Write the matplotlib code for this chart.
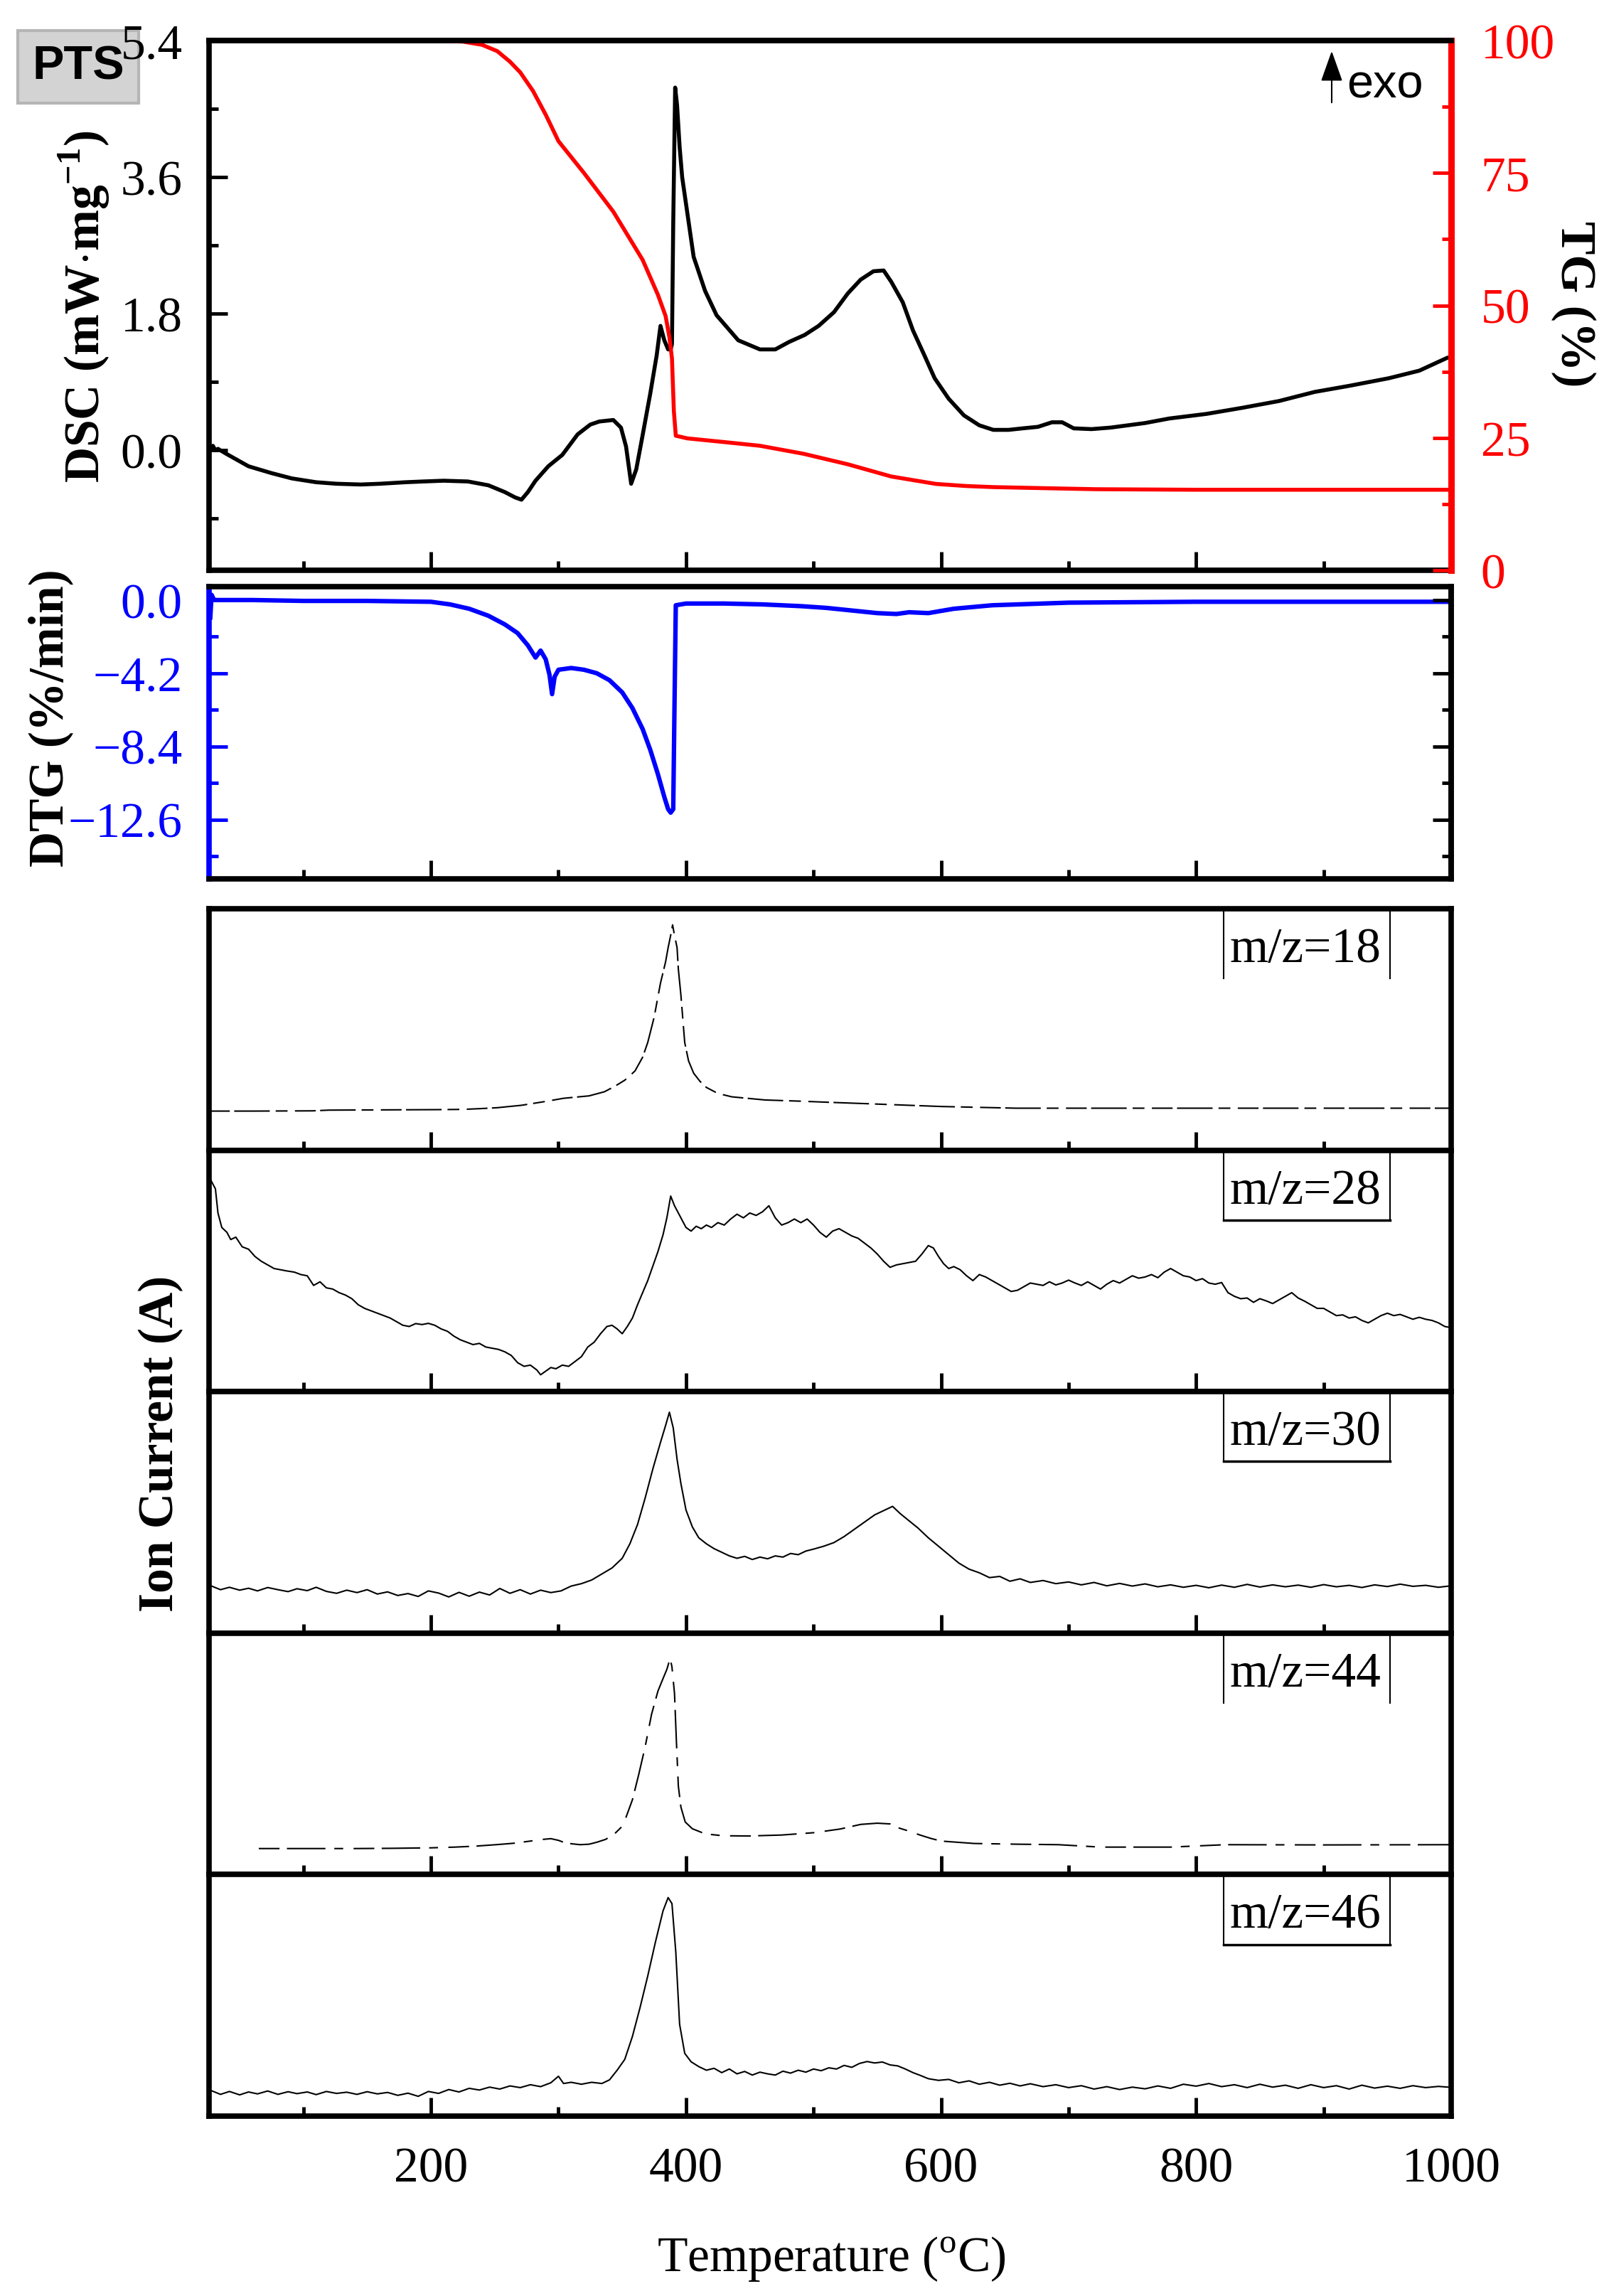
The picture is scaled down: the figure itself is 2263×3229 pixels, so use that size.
import matplotlib
matplotlib.use('Agg')
import matplotlib.pyplot as plt
from matplotlib.ticker import MultipleLocator, FixedLocator, FormatStrFormatter, NullFormatter, FuncFormatter

plt.rcParams['font.family'] = ['Liberation Serif', 'DejaVu Serif']
plt.rcParams['mathtext.fontset'] = 'custom'
plt.rcParams['mathtext.rm'] = 'Liberation Serif'
plt.rcParams['mathtext.bf'] = 'Liberation Serif:bold'
plt.rcParams['font.size'] = 50

# ---------------- data ----------------
# DSC (mW/mg)
dsc_T = [27, 29, 31, 33, 40, 57, 75, 91, 110, 126, 145, 160, 180, 194, 210, 229, 245, 258, 266, 271,
         276, 282, 292, 303, 315, 325, 332, 343, 349, 353, 357, 361, 366, 372, 377, 380, 383, 386, 388,
         389, 390, 391.5, 393, 395, 397, 406, 415, 424, 441, 458, 470, 481, 493, 504, 516, 527, 537,
         547, 555, 561, 570, 578, 587, 595, 606, 618, 630, 641, 653, 664, 676, 687, 695, 704, 718,
         733, 760, 779, 808, 836, 865, 893, 920, 951, 975, 997, 1000]
dsc = [0.0, 0.06, 0.0, 0.02, -0.05, -0.21, -0.30, -0.37, -0.42, -0.44, -0.45, -0.44, -0.42, -0.41,
       -0.40, -0.41, -0.46, -0.55, -0.62, -0.65, -0.55, -0.40, -0.21, -0.06, 0.21, 0.34, 0.38, 0.40,
       0.30, 0.05, -0.44, -0.25, 0.2, 0.75, 1.25, 1.64, 1.45, 1.33, 1.33, 1.4, 3.0, 4.78, 4.55, 4.0,
       3.6, 2.55, 2.1, 1.78, 1.45, 1.33, 1.33, 1.43, 1.52, 1.64, 1.82, 2.07, 2.25, 2.36, 2.37, 2.22,
       1.95, 1.58, 1.25, 0.95, 0.68, 0.46, 0.33, 0.27, 0.27, 0.29, 0.31, 0.37, 0.37, 0.29, 0.28,
       0.30, 0.36, 0.42, 0.48, 0.56, 0.65, 0.77, 0.85, 0.95, 1.05, 1.22, 1.23]

# TG (%)
tg_T = [26, 200, 225, 240, 252, 262, 270, 280, 290, 300, 320, 343, 366, 378, 384, 387, 389, 390.5,
        392, 401, 430, 458, 492, 527, 561, 596, 620, 641, 680, 722, 800, 1000]
tg = [100, 100, 99.8, 99.2, 98, 96, 94, 90.5, 86, 81, 75, 67.7, 58.6, 52, 48, 44, 40, 30, 25.4,
      24.9, 24.2, 23.5, 22, 20, 17.7, 16.3, 15.9, 15.7, 15.5, 15.3, 15.2, 15.2]

# DTG (%/min)
dtg_T = [27, 28, 30, 60, 100, 150, 200, 215, 230, 245, 258, 268, 276, 282, 286, 290, 293, 295, 297,
         300, 310, 320, 330, 340, 350, 358, 366, 372, 378, 383, 386, 388, 390, 391, 392, 400, 430,
         460, 490, 510, 530, 550, 565, 575, 590, 610, 640, 700, 800, 900, 1000]
dtg = [-1.0, 0.3, 0.0, 0.0, -0.05, -0.05, -0.1, -0.25, -0.5, -0.9, -1.4, -1.9, -2.6, -3.3, -2.9,
       -3.4, -4.3, -5.4, -4.4, -4.0, -3.9, -4.0, -4.2, -4.6, -5.3, -6.2, -7.4, -8.6, -10.0, -11.3,
       -12.0, -12.2, -12.0, -6.0, -0.3, -0.2, -0.2, -0.25, -0.35, -0.45, -0.6, -0.75, -0.8, -0.7,
       -0.75, -0.5, -0.3, -0.15, -0.1, -0.1, -0.1]

# Ion current, % of panel height
ms18_T = [26, 60, 107, 120, 205, 225, 238, 252, 271, 290, 304, 324, 336, 344, 352, 360, 366, 370,
          375, 380, 384, 386, 388, 389.5, 391, 393, 394, 396, 399, 402, 406, 411, 416, 425, 436,
          450, 462, 490, 514, 540, 560, 600, 659, 750, 850, 1000]
ms18 = [16.2, 16.2, 16.3, 16.6, 16.8, 16.9, 17.2, 17.6, 18.6, 20.2, 21.5, 22.5, 24.2, 26.4, 29.0,
        32.8, 38.5, 44.6, 55.0, 69.2, 78.0, 83.9, 89.0, 93.3, 89.0, 83.9, 75.0, 64.3, 44.6, 37.0,
        31.9, 28.5, 26.0, 23.5, 22.1, 21.4, 20.8, 20.3, 19.8, 19.3, 18.9, 18.1, 17.4, 17.4, 17.4, 17.4]

ms28_T = [27, 31, 33, 36, 40, 43, 47, 52, 57, 62, 67, 72, 77, 82, 87, 93, 98, 103, 108, 113, 118,
          123, 128, 133, 138, 143, 148, 153, 158, 163, 168, 173, 178, 183, 188, 193, 198, 203, 208,
          213, 218, 223, 228, 233, 238, 243, 248, 253, 258, 263, 268, 273, 278, 283, 286, 290, 294,
          298, 303, 308, 313, 318, 323, 328, 333, 338, 342, 346, 350, 354, 358, 362, 366, 370, 374,
          378, 382, 385, 388, 391, 394, 397, 400, 404, 408, 412, 416, 420, 425, 430, 435, 440, 445,
          450, 455, 460, 465, 470, 475, 480, 485, 490, 495, 500, 505, 510, 515, 520, 525, 530, 535,
          540, 545, 550, 555, 560, 565, 570, 575, 580, 585, 590, 594, 598, 602, 606, 610, 615, 620,
          625, 630, 635, 640, 645, 650, 655, 660, 665, 670, 675, 680, 685, 690, 695, 700, 705, 710,
          715, 720, 725, 730, 735, 740, 745, 750, 755, 760, 765, 770, 775, 780, 785, 790, 795, 800,
          805, 810, 815, 820, 825, 830, 835, 840, 845, 850, 855, 860, 865, 870, 875, 880, 885, 890,
          895, 900, 905, 910, 915, 920, 925, 930, 935, 940, 945, 950, 955, 960, 965, 970, 975, 980,
          985, 990, 995, 1000]
ms28 = [88, 84, 74, 68, 66, 63, 64, 60, 59, 56, 54, 52.5, 51, 50.5, 50, 49.5, 48.5, 48, 44, 45.5,
        43, 42.5, 41, 40, 38.5, 36, 34.5, 33.5, 32.5, 31.5, 30.5, 29, 27.5, 27, 28.2, 27.8, 28.3,
        27.5, 26, 25, 23, 21.5, 20.5, 19.5, 20, 18.5, 18, 17.5, 16.5, 15, 12, 10.5, 11, 9, 7, 8.5,
        10, 9.5, 11, 10.5, 12.5, 14.5, 18.5, 20.5, 24, 27, 27.5, 26, 24, 27, 30.5, 36, 41, 46, 52,
        58, 65, 72, 81, 77, 74, 71, 68, 66.5, 68.5, 67.5, 69, 68, 70, 69, 71.5, 73.5, 72, 74, 73,
        74.5, 77, 72, 69, 70, 71.5, 70, 71.5, 69, 66, 64, 66.5, 67.5, 66, 64.5, 63.5, 61.5, 59.5,
        57, 54, 51.5, 52.5, 53, 53.5, 54, 57, 60.5, 59.5, 56, 53, 51, 51.8, 50.5, 48, 46, 48.5,
        47.5, 46, 44.5, 43, 41.5, 42, 43.5, 45, 44.5, 44, 45.5, 44.2, 45, 46.2, 45, 44, 45.5, 44,
        42.5, 44.5, 46, 45, 46.5, 48, 47, 47.5, 48.5, 47.2, 49.5, 51, 49.5, 48, 47.5, 46, 46.8, 45,
        44.5, 45.2, 41, 39.5, 38.5, 38.8, 37, 38.5, 37.6, 36.5, 38, 39.5, 41, 38.8, 37.5, 36, 34.5,
        34.5, 33, 31.5, 31.8, 30.5, 31, 29.5, 28.5, 30, 31.5, 32.5, 31.5, 32, 31, 30, 30.8, 30,
        29.5, 28.5, 27, 26.5]

ms30_T = [28, 35, 42, 50, 57, 64, 72, 80, 88, 95, 103, 110, 118, 126, 134, 142, 150, 158, 166, 174,
          182, 190, 198, 206, 214, 222, 230, 238, 246, 254, 262, 270, 278, 286, 294, 302, 310, 318,
          326, 334, 342, 350, 356, 362, 368, 374, 380, 384, 387, 390, 393, 396, 400, 405, 410, 416,
          422, 428, 434, 440, 446, 452, 458, 464, 470, 476, 482, 488, 494, 500, 508, 516, 524, 532,
          540, 548, 556, 562, 568, 575, 582, 590, 598, 606, 614, 622, 630, 638, 646, 654, 662, 670,
          680, 690, 700, 710, 720, 730, 740, 750, 760, 770, 780, 790, 800, 810, 820, 830, 840, 850,
          860, 870, 880, 890, 900, 910, 920, 930, 940, 950, 960, 970, 980, 990, 1000]
ms30 = [19.5, 18.0, 19.0, 17.8, 18.6, 17.5, 18.9, 18.0, 17.2, 18.4, 17.6, 19.0, 17.3, 16.5, 17.8,
        16.8, 18.0, 16.2, 17.1, 15.6, 16.4, 15.2, 17.5, 16.6, 15.0, 16.9, 15.3, 17.0, 15.8, 18.5,
        16.5, 18.0, 16.2, 17.8, 16.8, 17.5, 19.5, 20.5, 22.0, 24.5, 27.0, 31.0, 37.0, 45.0, 56.0,
        68.0, 79.0, 86.0, 91.5, 85.0, 72.0, 62.0, 51.0, 44.0, 39.5, 37.0, 35.0, 33.5, 32.0, 31.0,
        31.8, 30.5, 31.5, 30.8, 32.0, 31.5, 33.0, 32.5, 34.0, 34.8, 36.0, 37.5, 40.0, 43.0, 46.0,
        49.0, 51.0, 52.5, 49.5, 46.5, 43.5, 39.5, 36.0, 32.5, 29.0, 26.5, 25.0, 23.0, 23.5, 21.5,
        22.5, 21.0, 21.8, 20.5, 21.2, 20.0, 21.0, 19.6, 20.6, 19.5, 20.4, 19.2, 20.0, 19.0, 19.8,
        18.8, 19.9, 19.0, 20.2, 19.1, 20.0, 19.2, 19.9, 19.0, 20.1, 19.2, 19.8, 18.9, 20.0, 19.3,
        20.3, 19.4, 19.8, 19.0, 19.6]

ms44_T = [65, 80, 100, 120, 140, 170, 200, 219, 235, 251, 265, 278, 288, 294, 300, 304, 310, 317,
          324, 330, 337, 344, 349, 353, 358, 363, 368, 373, 378, 382, 385, 387.6, 389, 391, 392.5,
          394, 396, 399.4, 405, 412.6, 420, 429, 449, 475, 501, 521, 537, 550, 560, 567, 575, 583.5,
          592, 600, 626, 660, 692, 725, 780, 823, 900, 1000]
ms44 = [10.8, 10.8, 10.8, 10.8, 10.8, 10.9, 11.1, 11.4, 11.8, 12.4, 13.0, 13.9, 14.6, 14.9, 14.2,
        13.4, 12.8, 12.4, 12.6, 13.4, 14.6, 16.9, 19.5, 23.8, 31, 41.6, 53, 66.4, 76, 81.2, 85, 89.6,
        86, 75, 55, 36.7, 28, 21.8, 19, 17.4, 16.6, 16.1, 16.0, 16.4, 17.4, 18.9, 20.8, 21.3, 21.0,
        19.3, 18, 16.4, 15, 13.9, 12.9, 12.6, 12.4, 11.4, 11.4, 12.4, 12.3, 12.4]

ms46_T = [28, 35, 42, 50, 57, 64, 72, 80, 88, 95, 103, 110, 118, 126, 134, 142, 150, 158, 166, 174,
          182, 190, 198, 206, 214, 222, 230, 238, 246, 254, 262, 270, 278, 286, 294, 300, 304, 310,
          318, 326, 334, 340, 346, 352, 358, 364, 370, 376, 382, 386, 389, 392, 395, 399, 404, 410,
          416, 422, 428, 434, 440, 446, 452, 458, 464, 470, 476, 482, 488, 494, 500, 506, 512, 518,
          524, 530, 536, 542, 548, 554, 560, 566, 572, 578, 584, 590, 598, 606, 614, 622, 630, 638,
          646, 654, 662, 670, 680, 690, 700, 710, 720, 730, 740, 750, 760, 770, 780, 790, 800, 810,
          820, 830, 840, 850, 860, 870, 880, 890, 900, 910, 920, 930, 940, 950, 960, 970, 980, 990,
          1000]
ms46 = [10.5, 9.0, 10.2, 8.8, 10.0, 9.2, 10.4, 9.0, 10.1, 9.3, 10.0, 8.9, 10.2, 9.4, 9.9, 9.0,
        10.1, 9.2, 9.8, 8.6, 9.5, 8.2, 10.2, 9.4, 11.0, 10.0, 11.5, 10.8, 12.0, 11.2, 12.5, 11.8,
        13.0, 12.2, 13.8, 16.5, 13.5, 14.0, 13.2, 14.0, 13.5, 15.0, 19.0, 23.5, 33.0, 45.0, 58.0,
        72.0, 85.0, 90.5, 88.0, 68.0, 38.0, 26.0, 22.5, 20.5, 19.0, 19.8, 18.0, 19.5, 17.5, 18.5,
        17.0, 18.2, 17.5, 17.0, 18.6, 17.8, 19.0, 18.2, 19.5, 18.8, 20.0, 19.5, 21.0, 20.2, 21.8,
        22.6, 22.0, 22.4, 21.2, 20.8, 19.5, 18.0, 16.8, 15.5, 14.8, 15.2, 13.8, 14.6, 13.2, 14.0,
        12.8, 13.6, 12.5, 13.4, 12.2, 13.0, 11.8, 12.6, 11.2, 12.2, 11.0, 12.0, 11.3, 12.5, 11.5,
        13.2, 12.4, 13.5, 12.2, 13.0, 11.8, 13.2, 12.0, 12.8, 11.5, 13.0, 11.8, 12.6, 11.2, 12.8,
        11.6, 12.4, 11.5, 12.6, 11.8, 12.3, 11.9]

ms_labels = ['m/z=18', 'm/z=28', 'm/z=30', 'm/z=44', 'm/z=46']

# ---------------- figure ----------------
W, H = 2263, 3230
fig = plt.figure(figsize=(W / 100, H / 100), dpi=100)

left = 294 / W
width = (2041 - 294) / W
spine_w = 5.5
tick_kw = dict(direction='in', length=19, width=3.5)
minor_kw = dict(direction='in', length=9.5, width=3.5)

# one decimal, with a real minus sign
one_dec = FuncFormatter(lambda v, pos: ('%.1f' % v).replace('-', '\u2212'))


def fig_y(px):
    return 1 - px / H


def style_x(ax, labels=False):
    ax.set_xlim(26, 1000)
    ax.xaxis.set_major_locator(FixedLocator([200, 400, 600, 800, 1000]))
    ax.xaxis.set_minor_locator(FixedLocator([100, 300, 500, 700, 900]))
    ax.tick_params(axis='x', which='major', top=False, **tick_kw)
    ax.tick_params(axis='x', which='minor', top=False, **minor_kw)
    if not labels:
        ax.xaxis.set_major_formatter(NullFormatter())
    for s in ax.spines.values():
        s.set_linewidth(spine_w)


# DSC + TG
ax1 = fig.add_axes([left, fig_y(803), width, (803 - 58) / H])
ax1.plot(dsc_T, dsc, color='black', lw=4, zorder=3)
style_x(ax1)
ax1.set_ylim(-1.58, 5.4)
ax1.yaxis.set_major_locator(FixedLocator([0.0, 1.8, 3.6, 5.4]))
ax1.yaxis.set_minor_locator(FixedLocator([-0.9, 0.9, 2.7, 4.5]))
ax1.yaxis.set_major_formatter(one_dec)
ax1.tick_params(axis='y', which='major', right=False, pad=27, **tick_kw)
ax1.tick_params(axis='y', which='minor', right=False, **minor_kw)
ax1.spines['right'].set_visible(False)

ax1t = ax1.twinx()
ax1t.plot(tg_T, tg, color='red', lw=4)
ax1t.set_ylim(0, 100)
ax1t.yaxis.set_major_locator(FixedLocator([0, 25, 50, 75, 100]))
ax1t.yaxis.set_minor_locator(MultipleLocator(12.5))
ax1t.tick_params(axis='y', which='major', colors='red', pad=30, **tick_kw)
ax1t.tick_params(axis='y', which='minor', colors='red', **minor_kw)
for side in ['left', 'bottom']:
    ax1t.spines[side].set_visible(False)
ax1t.spines['right'].set_color('red')
ax1t.spines['right'].set_linewidth(spine_w + 1)
ax1t.spines['top'].set_linewidth(spine_w)

# DTG
ax2 = fig.add_axes([left, fig_y(1237), width, (1237 - 826) / H])
ax2.plot(dtg_T, dtg, color='blue', lw=4.5)
style_x(ax2)
ax2.set_ylim(-16.0, 0.77)
ax2.yaxis.set_major_locator(FixedLocator([0.0, -4.2, -8.4, -12.6]))
ax2.yaxis.set_minor_locator(FixedLocator([-2.1, -6.3, -10.5, -14.7]))
ax2.yaxis.set_major_formatter(one_dec)
ax2.tick_params(axis='y', which='major', colors='blue', right=False, pad=27, **tick_kw)
ax2.tick_params(axis='y', which='minor', colors='blue', right=False, **minor_kw)
ax2.spines['left'].set_color('blue')
ax2r = ax2.twinx()
ax2r.set_ylim(ax2.get_ylim())
ax2r.yaxis.set_major_locator(FixedLocator([0.0, -4.2, -8.4, -12.6]))
ax2r.yaxis.set_minor_locator(FixedLocator([-2.1, -6.3, -10.5, -14.7]))
ax2r.yaxis.set_major_formatter(NullFormatter())
ax2r.tick_params(axis='y', which='major', **tick_kw)
ax2r.tick_params(axis='y', which='minor', **minor_kw)
for side in ['left', 'top', 'bottom']:
    ax2r.spines[side].set_visible(False)
ax2r.spines['right'].set_linewidth(spine_w)

# ion current panels
ms_T = [ms18_T, ms28_T, ms30_T, ms44_T, ms46_T]
ms_v = [ms18, ms28, ms30, ms44, ms46]
ms_style = [(0, (14, 3, 24, 4, 8, 5)), '-', '-', (0, (14, 5, 26, 6, 6, 7)), '-']
full_box = [False, True, True, False, True]
top_px = 1279
panel_h = (2977 - 1279) / 5
for i in range(5):
    y0 = top_px + panel_h * (i + 1)
    ax = fig.add_axes([left, fig_y(y0), width, panel_h / H])
    ax.plot(ms_T[i], ms_v[i], color='black', lw=1.5, linestyle=ms_style[i])
    style_x(ax, labels=(i == 4))
    ax.set_ylim(0, 100)
    ax.set_yticks([])
    if i == 4:
        ax.tick_params(axis='x', which='major', pad=31)
    # label box
    bx0, bx1, by = 0.8168, 0.9508, 0.711
    ax.plot([bx0, bx0], [1, by], color='black', lw=1.5, transform=ax.transAxes)
    ax.plot([bx1, bx1], [1, by], color='black', lw=1.5, transform=ax.transAxes)
    if full_box[i]:
        ax.plot([bx0, bx1], [by, by], color='black', lw=2.5, transform=ax.transAxes)
    ax.text(0.8827, 0.782, ms_labels[i], ha='center', va='baseline', fontsize=50,
            transform=ax.transAxes)

# axis titles
fig.text(118 / W, fig_y(431), r'DSC (mW$\cdot$mg$^{\mathbf{-1}}$)', rotation=90, ha='center',
         va='center', fontweight='bold', fontsize=50)
fig.text(2213 / W, fig_y(428), 'TG (%)', rotation=270, ha='center', va='center',
         fontweight='bold', fontsize=50)
fig.text(71 / W, fig_y(1010), 'DTG (%/min)', rotation=90, ha='center', va='center',
         fontweight='bold', fontsize=50)
fig.text(226 / W, fig_y(2030), 'Ion Current (A)', rotation=90, ha='center', va='center',
         fontweight='bold', fontsize=50)
fig.text(1169 / W, fig_y(3178), r'Temperature ($^{\rm o}$C)', ha='center', va='center',
         fontsize=50)

# sample tag (behind the 5.4 label) and exo marker
fig.text(110 / W, fig_y(95), 'PTS', ha='center', va='center', fontsize=48, fontweight='bold',
         family=['Liberation Sans', 'DejaVu Sans'], zorder=-1,
         bbox=dict(boxstyle='square,pad=0.3', facecolor='#d3d3d3', edgecolor='#b5b5b5', lw=3))
fig.text(1894 / W, fig_y(137), 'exo', ha='left', va='baseline', fontsize=48,
         family=['Liberation Sans', 'DejaVu Sans'])
fig.add_artist(matplotlib.patches.FancyArrowPatch(
    (1873 / W, fig_y(148)), (1873 / W, fig_y(70)), transform=fig.transFigure,
    arrowstyle='-|>,head_length=0.45,head_width=0.16', mutation_scale=60,
    color='black', lw=1.5))

fig.savefig('out.png', dpi=100)
